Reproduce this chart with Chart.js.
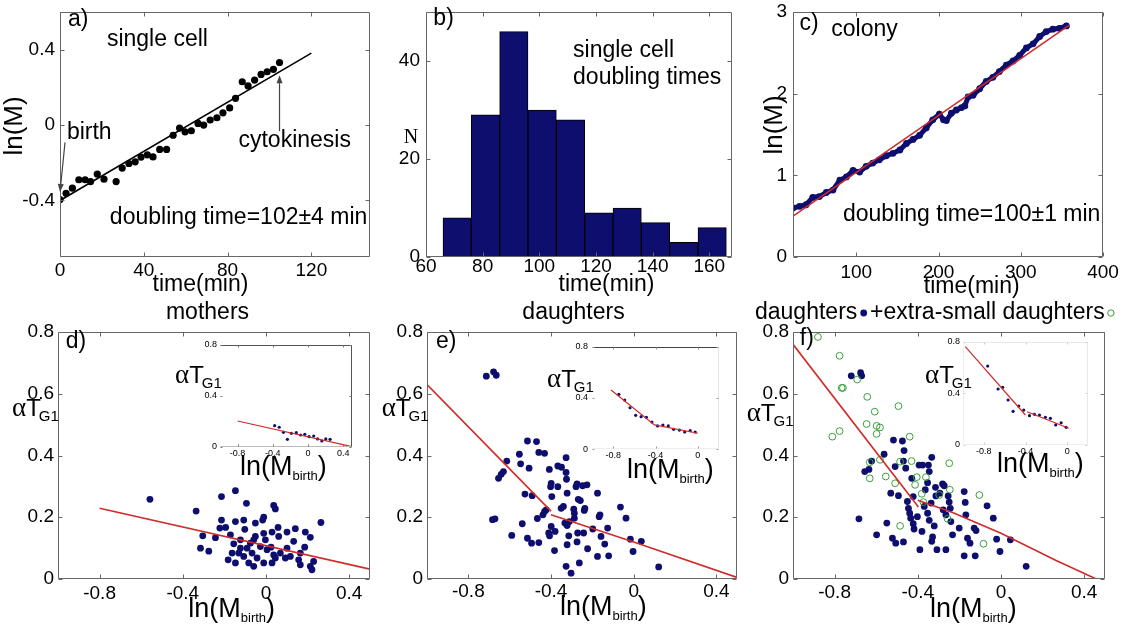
<!DOCTYPE html>
<html>
<head>
<meta charset="utf-8">
<script src="https://cdn.jsdelivr.net/npm/chart.js@4.4.1/dist/chart.umd.min.js"></script>
<style>
  html, body { margin: 0; padding: 0; background: #fff; }
  #fig { position: relative; width: 1124px; height: 632px; overflow: hidden; background: #fff; }
  #fig canvas { position: absolute; }
</style>
</head>
<body>
<div id="fig">
  <canvas id="pa" width="380" height="300" style="left:0px;top:0px"></canvas>
  <canvas id="pb" width="370" height="300" style="left:380px;top:0px"></canvas>
  <canvas id="pc" width="374" height="300" style="left:750px;top:0px"></canvas>
  <canvas id="pd" width="380" height="332" style="left:0px;top:300px"></canvas>
  <canvas id="pe" width="370" height="332" style="left:380px;top:300px"></canvas>
  <canvas id="pf" width="379" height="332" style="left:745px;top:300px"></canvas>
  <canvas id="id" width="200" height="150" style="left:165px;top:335px"></canvas>
  <canvas id="ie" width="190" height="150" style="left:540px;top:337px"></canvas>
  <canvas id="if" width="190" height="150" style="left:915px;top:331px"></canvas>
</div>
<script>
// ---------- a) single cell growth ----------
const cellTime = [0, 2.9, 5.9, 9, 12, 14.6, 17.8, 21, 26.8, 29.7, 32.9, 35.9, 38.7, 41.7, 44.4, 47.6, 50.9, 54, 57.1, 59.7,
                  62.7, 65.9, 68.6, 71.7, 74.9, 77.8, 81, 83.8, 87, 89.8, 92.9, 96, 98.9, 101.9, 104.8];
const cellLnM = [-0.395, -0.362, -0.335, -0.29, -0.29, -0.30, -0.26, -0.287, -0.30, -0.228, -0.204, -0.195, -0.17, -0.158, -0.169, -0.129, -0.129, -0.054, -0.016, -0.036,
                 -0.03, 0.009, 0, 0.027, 0.039, 0.065, 0.091, 0.142, 0.23, 0.208, 0.239, 0.269, 0.283, 0.296, 0.332];
const cellFitTime = [0, 120];
const cellFitLnM = [-0.40, 0.382];
const birthArrow = [[2.4, -0.092], [0, -0.355]];
const cytokinesisArrow = [[104.8, -0.032], [104.8, 0.264]];

// ---------- b) histogram of single-cell doubling times ----------
const binCenters = [71, 81, 91, 101, 111, 121, 131, 141, 151, 161];
const binCounts = [8, 29, 46, 30, 28, 9, 10, 7, 3, 6];

// ---------- c) colony growth ----------
const colonyTime = [23, 31, 39, 47, 55, 63.5, 71.6, 80, 88, 96, 104, 112, 120, 128, 136.5, 144.6, 153, 161, 169, 177,
                    185, 193, 201, 206, 209.5, 215.6, 221.7, 228, 232, 236, 242, 250, 258, 266, 274, 282.5, 290.6, 298.7, 306.8, 315,
                    323, 331, 339, 347, 355.5];
const colonyLnM = [0.60, 0.62, 0.64, 0.73, 0.74, 0.79, 0.82, 0.94, 0.98, 1.06, 1.04, 1.11, 1.15, 1.19, 1.24, 1.27, 1.31, 1.39, 1.44, 1.49,
                   1.58, 1.68, 1.75, 1.68, 1.67, 1.76, 1.80, 1.83, 1.85, 1.96, 1.98, 2.06, 2.15, 2.20, 2.27, 2.35, 2.40, 2.47, 2.56, 2.61,
                   2.70, 2.76, 2.79, 2.80, 2.83];
const colonyFitTime = [23, 359];
const colonyFitLnM = [0.50, 2.84];

// ---------- d) mothers: alpha*T_G1 vs ln(M_birth) ----------
const motherPoints = [[-0.558,0.258],[-0.336,0.220],[-0.304,0.140],[-0.315,0.100],[-0.275,0.090],[-0.214,0.267],[-0.147,0.286],[-0.214,0.191],
  [-0.222,0.165],[-0.194,0.167],[-0.243,0.134],[-0.171,0.143],[-0.182,0.062],[-0.147,0.186],[-0.107,0.191],[-0.102,0.161],[-0.094,0.245],
  [-0.051,0.181],[-0.016,0.191],[-0.011,0.200],[0.037,0.238],[0.045,0.227],[0.029,0.152],[0.058,0.167],[0.101,0.152],[0.141,0.163],
  [0.189,0.152],[0.213,0.135],[0.264,0.183],[0.133,0.122],[0.186,0.103],[0.061,0.138],[-0.003,0.127],[-0.059,0.127],[-0.123,0.127],
  [-0.155,0.114],[-0.163,0.084],[-0.147,0.052],[-0.123,0.100],[-0.091,0.100],[-0.067,0.084],[-0.043,0.068],[-0.083,0.052],[-0.059,0.041],
  [-0.011,0.052],[0.029,0.052],[0.045,0.068],[0.069,0.084],[0.093,0.068],[0.117,0.073],[0.157,0.062],[0.165,0.046],[0.213,0.041],
  [0.221,0.030],[0.229,0.057],[0.037,0.078],[0.005,0.095],[-0.027,0.105],[-0.075,0.116],[-0.051,0.138],[-0.011,0.148],[-0.107,0.073],
  [-0.131,0.084],[0.101,0.100],[0.165,0.084],[0.024,0.103]];
const motherFit = [[-0.8, 0.229], [0.5, 0.032]];
const motherBinned = [[-0.379,0.165],[-0.327,0.153],[-0.279,0.113],[-0.234,0.058],[-0.189,0.105],[-0.133,0.110],[-0.084,0.092],
  [-0.036,0.097],[0.012,0.079],[0.065,0.084],[0.109,0.061],[0.157,0.045],[0.202,0.061],[0.251,0.058]];
const motherBinnedFit = [[-0.8, 0.202], [0.5, 0.0]];

// ---------- e) daughters ----------
const daughterPoints = [[-0.713,0.657],[-0.678,0.671],[-0.665,0.660],[-0.514,0.447],[-0.470,0.445],[-0.553,0.404],[-0.459,0.410],
  [-0.431,0.407],[-0.547,0.373],[-0.506,0.359],[-0.614,0.382],[-0.630,0.348],[-0.654,0.326],[-0.641,0.339],[-0.526,0.275],[-0.491,0.270],
  [-0.683,0.192],[-0.671,0.195],[-0.539,0.179],[-0.590,0.141],[-0.514,0.132],[-0.494,0.116],[-0.459,0.118],[-0.466,0.196],[-0.439,0.208],
  [-0.431,0.219],[-0.423,0.224],[-0.411,0.149],[-0.407,0.140],[-0.399,0.170],[-0.380,0.154],[-0.408,0.355],[-0.367,0.366],[-0.349,0.362],
  [-0.327,0.393],[-0.327,0.345],[-0.325,0.323],[-0.399,0.310],[-0.367,0.299],[-0.402,0.299],[-0.396,0.267],[-0.322,0.278],[-0.351,0.229],
  [-0.340,0.235],[-0.333,0.181],[-0.322,0.173],[-0.311,0.186],[-0.290,0.226],[-0.287,0.213],[-0.287,0.197],[-0.314,0.140],[-0.322,0.111],
  [-0.274,0.120],[-0.271,0.149],[-0.242,0.149],[-0.383,0.092],[-0.327,0.041],[-0.303,0.019],[-0.263,0.052],[-0.223,0.098],[-0.175,0.073],
  [-0.121,0.075],[-0.140,0.113],[-0.158,0.138],[-0.126,0.165],[-0.198,0.162],[-0.167,0.202],[-0.163,0.208],[-0.239,0.222],[-0.236,0.229],
  [-0.268,0.258],[-0.258,0.254],[-0.279,0.299],[-0.274,0.308],[-0.247,0.302],[-0.226,0.305],[-0.175,0.278],[-0.064,0.233],[-0.037,0.197],
  [-0.016,0.129],[-0.003,0.089],[0.037,0.122],[0.121,0.039]];
const daughterFitSmall = [[-1, 0.63], [-0.4, 0.22]];
const daughterFitLarge = [[-0.4, 0.208], [0, 0.12], [0.5, 0.005]];
const daughterBinned = [[-0.746,0.429],[-0.691,0.384],[-0.641,0.324],[-0.587,0.265],[-0.536,0.254],[-0.486,0.249],[-0.434,0.213],
  [-0.381,0.182],[-0.330,0.189],[-0.279,0.182],[-0.229,0.156],[-0.174,0.150],[-0.124,0.135],[-0.072,0.145],[-0.025,0.135]];
const daughterBinnedFit = [[-0.82, 0.462], [-0.41, 0.19], [0, 0.125]];

// ---------- f) daughters plus extra-small daughters ----------
const daughterPointsF = [[-0.720,0.658],[-0.675,0.668],[-0.670,0.658],[-0.683,0.195],[-0.598,0.143],[-0.655,0.348],[-0.635,0.355],
  [-0.622,0.382],[-0.562,0.404],[-0.517,0.450],[-0.474,0.447],[-0.466,0.416],[-0.509,0.364],[-0.469,0.382],[-0.530,0.278],[-0.493,0.270],
  [-0.549,0.181],[-0.522,0.132],[-0.506,0.116],[-0.469,0.120],[-0.450,0.251],[-0.445,0.229],[-0.439,0.213],[-0.434,0.197],[-0.422,0.267],
  [-0.429,0.326],[-0.402,0.202],[-0.422,0.179],[-0.418,0.162],[-0.390,0.095],[-0.380,0.154],[-0.369,0.235],[-0.353,0.213],[-0.394,0.369],
  [-0.377,0.369],[-0.349,0.369],[-0.345,0.348],[-0.333,0.394],[-0.353,0.312],[-0.364,0.289],[-0.336,0.246],[-0.315,0.297],[-0.313,0.269],
  [-0.281,0.308],[-0.273,0.302],[-0.294,0.278],[-0.345,0.190],[-0.321,0.172],[-0.329,0.136],[-0.333,0.122],[-0.308,0.095],[-0.278,0.224],
  [-0.265,0.208],[-0.241,0.186],[-0.233,0.143],[-0.265,0.095],[-0.249,0.249],[-0.254,0.269],[-0.201,0.165],[-0.177,0.283],[-0.172,0.248],
  [-0.169,0.208],[-0.177,0.075],[-0.124,0.075],[-0.161,0.132],[-0.149,0.116],[-0.129,0.165],[-0.120,0.157],[-0.067,0.237],[-0.037,0.197],
  [-0.021,0.129],[-0.005,0.089],[0.045,0.127],[0.121,0.041],[-0.244,0.229],[-0.458,0.359]];
const extraSmallPoints = [[-0.880,0.784],[-0.776,0.723],[-0.766,0.619],[-0.760,0.619],[-0.691,0.646],[-0.643,0.590],[-0.607,0.542],
  [-0.493,0.560],[-0.646,0.502],[-0.598,0.496],[-0.582,0.491],[-0.598,0.470],[-0.776,0.479],[-0.811,0.461],[-0.439,0.461],[-0.631,0.378],
  [-0.582,0.386],[-0.631,0.326],[-0.554,0.332],[-0.509,0.310],[-0.485,0.380],[-0.430,0.382],[-0.249,0.375],[-0.413,0.305],[-0.405,0.330],
  [-0.381,0.276],[-0.361,0.330],[-0.297,0.272],[-0.246,0.289],[-0.104,0.272],[-0.373,0.249],[-0.257,0.195],[-0.485,0.172],[-0.084,0.114]];
const allFitSmall = [[-1, 0.76], [-0.397, 0.233]];
const allFitLarge = [[-0.4, 0.255], [-0.233, 0.215], [0, 0.148], [0.265, 0.06], [0.458, 0.0]];
const allBinned = [[-0.763,0.610],[-0.663,0.433],[-0.619,0.446],[-0.567,0.348],[-0.519,0.260],[-0.465,0.301],[-0.417,0.270],
  [-0.362,0.227],[-0.314,0.237],[-0.266,0.232],[-0.209,0.214],[-0.161,0.206],[-0.110,0.155],[-0.058,0.172],[-0.010,0.137]];
const allBinnedFitSmall = [[-0.978, 0.76], [-0.401, 0.232]];
const allBinnedFitLarge = [[-0.385, 0.257], [0.016, 0.129]];

// ---------- tick values ----------
const ticksA = { x: [0, 40, 80, 120], y: [-0.4, 0, 0.4] };
const ticksB = { x: [60, 80, 100, 120, 140, 160], y: [0, 20, 40] };
const ticksC = { x: [100, 200, 300, 400], y: [0, 1, 2, 3] };
const ticksMain = { x: [-0.8, -0.4, 0, 0.4], y: [0, 0.2, 0.4, 0.6, 0.8] };
const ticksInsetD = { x: [-0.8, -0.4, 0, 0.4], y: [0, 0.4, 0.8] };
const ticksInsetEF = { x: [-0.8, -0.4, 0], y: [0, 0.4, 0.8] };

// ---------- styling ----------
const SANS = '"Liberation Sans", Arial, Helvetica, sans-serif';
const SERIF = '"Liberation Serif", "Times New Roman", serif';
const NAVY = '#0e0e6e';
const RED = '#d02a2a';
const GREEN = '#3a9e3a';
const FRAME = '#666';

const pts = (xs, ys) => xs.map((x, i) => ({ x, y: ys[i] }));
const pairs = arr => arr.map(([x, y]) => ({ x, y }));
const fmt = v => String(+Number(v).toFixed(2));

function dots(data, color, r, order) {
  return { data, showLine: false, pointRadius: r, pointBackgroundColor: color, pointBorderColor: color,
           pointBorderWidth: 0, borderWidth: 0, order };
}
function rings(data, color, r, order) {
  return { data, showLine: false, pointRadius: r, pointBackgroundColor: 'rgba(0,0,0,0)', pointBorderColor: color,
           pointBorderWidth: 1, order };
}
function line(data, color, w, order) {
  return { data, showLine: true, borderColor: color, borderWidth: w, pointRadius: 0, fill: false, tension: 0, order };
}

function axis(min, max, values, size, pad, fontSize) {
  return {
    type: 'linear', min, max, offset: false,
    grid: { display: false, drawTicks: false }, border: { display: false },
    afterBuildTicks: s => { s.ticks = values.map(v => ({ value: v })); },
    afterFit: s => {
      if (s.isHorizontal()) s.height = size; else s.width = size;
      s.paddingLeft = s.paddingRight = s.paddingTop = s.paddingBottom = 0;
    },
    ticks: { font: { family: SANS, size: fontSize }, color: '#000', padding: pad, autoSkip: false, maxRotation: 0,
             minRotation: 0, callback: v => fmt(v) }
  };
}

// box and inward tick marks on all four sides
const framePlugin = {
  id: 'frame',
  afterDatasetsDraw(chart, args, o) {
    const { ctx, chartArea: a, scales } = chart;
    const L = Math.round(a.left) + 0.5, R = Math.round(a.right) - 0.5;
    const T = Math.round(a.top) + 0.5, B = Math.round(a.bottom) - 0.5;
    const c = o.sides || {};
    ctx.save();
    ctx.lineWidth = 1;
    const seg = (col, x1, y1, x2, y2) => {
      if (!col) return;
      ctx.strokeStyle = col; ctx.beginPath(); ctx.moveTo(x1, y1); ctx.lineTo(x2, y2); ctx.stroke();
    };
    seg(c.top, L, T, R, T); seg(c.bottom, L, B, R, B); seg(c.left, L, T, L, B); seg(c.right, R, T, R, B);
    const tl = o.tickLen || 0;
    ctx.strokeStyle = o.tickColor || FRAME;
    scales.x.ticks.forEach(t => {
      const p = Math.round(scales.x.getPixelForValue(t.value)) + 0.5;
      ctx.beginPath(); ctx.moveTo(p, B); ctx.lineTo(p, B - tl); ctx.moveTo(p, T); ctx.lineTo(p, T + tl); ctx.stroke();
    });
    scales.y.ticks.forEach(t => {
      const p = Math.round(scales.y.getPixelForValue(t.value)) + 0.5;
      ctx.beginPath(); ctx.moveTo(L, p); ctx.lineTo(L + tl, p); ctx.moveTo(R, p); ctx.lineTo(R - tl, p); ctx.stroke();
    });
    ctx.restore();
  }
};

// arrows given in data units
const arrowPlugin = {
  id: 'arrows',
  afterDatasetsDraw(chart, args, o) {
    const { ctx, scales } = chart;
    (o.list || []).forEach(([from, to]) => {
      const x1 = scales.x.getPixelForValue(from[0]), y1 = scales.y.getPixelForValue(from[1]);
      const x2 = scales.x.getPixelForValue(to[0]), y2 = scales.y.getPixelForValue(to[1]);
      const ang = Math.atan2(y2 - y1, x2 - x1), hl = 8, hw = 3;
      ctx.save();
      ctx.strokeStyle = '#444'; ctx.fillStyle = '#444'; ctx.lineWidth = 1.2;
      ctx.beginPath(); ctx.moveTo(x1, y1); ctx.lineTo(x2 - Math.cos(ang) * hl * 0.6, y2 - Math.sin(ang) * hl * 0.6); ctx.stroke();
      ctx.translate(x2, y2); ctx.rotate(ang);
      ctx.beginPath(); ctx.moveTo(0, 0); ctx.lineTo(-hl, hw); ctx.lineTo(-hl, -hw); ctx.closePath(); ctx.fill();
      ctx.restore();
    });
  }
};

// text with sub-scripts, symbols and markers
function drawRich(ctx, parts, x, y, align, rot) {
  ctx.save();
  ctx.translate(x, y);
  if (rot) ctx.rotate(rot);
  ctx.textBaseline = 'middle';
  const widths = parts.map(p => {
    if (p.dot) return p.dot.r * 2 + p.dot.gap * 2;
    ctx.font = `${p.size}px ${p.fam || SANS}`;
    return ctx.measureText(p.t).width + (p.dx || 0);
  });
  let cx = align === 'center' ? -widths.reduce((s, w) => s + w, 0) / 2 : 0;
  parts.forEach((p, i) => {
    if (p.dot) {
      ctx.beginPath();
      ctx.arc(cx + p.dot.gap + p.dot.r, p.dy || 0, p.dot.r, 0, Math.PI * 2);
      if (p.dot.fill) { ctx.fillStyle = p.dot.fill; ctx.fill(); }
      if (p.dot.stroke) { ctx.strokeStyle = p.dot.stroke; ctx.lineWidth = 1; ctx.stroke(); }
    } else {
      ctx.font = `${p.size}px ${p.fam || SANS}`;
      ctx.fillStyle = '#000';
      ctx.fillText(p.t, cx + (p.dx || 0), p.dy || 0);
    }
    cx += widths[i];
  });
  ctx.restore();
}

const notesPlugin = {
  id: 'notes',
  afterDraw(chart, args, o) {
    const ox = chart.canvas.offsetLeft, oy = chart.canvas.offsetTop;
    (o.items || []).forEach(it => {
      let x, y;
      if (it.at === 'data') { x = chart.scales.x.getPixelForValue(it.x); y = chart.scales.y.getPixelForValue(it.y); }
      else { x = it.x - ox; y = it.y - oy; }
      drawRich(chart.ctx, it.parts, x, y, it.align || 'left', it.rot || 0);
    });
  }
};
Chart.register(framePlugin, arrowPlugin, notesPlugin);

const TXT = 23, TICK = 19;
const plain = (t, size = TXT, fam = SANS) => [{ t, size, fam }];
const lnMbirth = (size = 27) => [{ t: 'ln(M', size }, { t: 'birth', size: 13, dy: 8 }, { t: ')', size }];
const alphaT = () => [{ t: 'α', size: 27, fam: SERIF }, { t: 'T', size: 24 }, { t: 'G1', size: 15, dy: 8, dx: -2 }];

function baseOptions(pad, xAxis, yAxis, frame, items, arrows) {
  return {
    responsive: false, maintainAspectRatio: false, animation: false, devicePixelRatio: 1, events: [],
    layout: { padding: pad },
    plugins: { legend: { display: false }, tooltip: { enabled: false }, title: { display: false },
               frame, notes: { items }, arrows: { list: arrows || [] } },
    scales: { x: xAxis, y: yAxis }
  };
}
const mainFrame = { sides: { top: FRAME, bottom: FRAME, left: FRAME, right: FRAME }, tickLen: 4, tickColor: FRAME };

// a) single cell
new Chart(document.getElementById('pa'), {
  type: 'scatter',
  data: { datasets: [
    line(pts(cellFitTime, cellFitLnM), '#000', 1.6, 0),
    dots(pts(cellTime, cellLnM), '#000', 3.6, 1)
  ] },
  options: baseOptions({ left: 0, top: 12, right: 10, bottom: 0 },
    axis(0, 148, ticksA.x, 43, 2, TICK), axis(-0.7, 0.6, ticksA.y, 60, 5, TICK), mainFrame, [
      { at: 'data', x: 3.8, y: 0.56, parts: plain('a)') },
      { at: 'data', x: 22.4, y: 0.452, parts: plain('single cell') },
      { at: 'data', x: 3.3, y: -0.038, parts: plain('birth') },
      { at: 'data', x: 85.2, y: -0.084, parts: plain('cytokinesis') },
      { at: 'data', x: 23.8, y: -0.49, parts: plain('doubling time=102±4 min') },
      { at: 'page', x: 200.5, y: 285, align: 'center', parts: plain('time(min)') },
      { at: 'page', x: 15, y: 126, align: 'center', rot: -Math.PI / 2, parts: plain('ln(M)', 26) }
    ], [birthArrow, cytokinesisArrow])
});

// b) histogram
new Chart(document.getElementById('pb'), {
  type: 'bar',
  data: { datasets: [{ data: pts(binCenters, binCounts), backgroundColor: NAVY, borderColor: '#000', borderWidth: 1,
                       borderSkipped: false, barPercentage: 1, categoryPercentage: 1 }] },
  options: baseOptions({ left: 0, top: 12, right: 18, bottom: 0 },
    axis(60, 168, ticksB.x, 43, -2, TICK), axis(0, 50, ticksB.y, 46, 6, TICK), mainFrame, [
      { at: 'data', x: 62.6, y: 48.7, parts: plain('b)') },
      { at: 'data', x: 111.9, y: 42.2, parts: plain('single cell') },
      { at: 'data', x: 111.9, y: 36.7, parts: plain('doubling times') },
      { at: 'page', x: 606.5, y: 285, align: 'center', parts: plain('time(min)') },
      { at: 'page', x: 411, y: 138, align: 'center', parts: plain('N', 20, SERIF) }
    ])
});

// c) colony
new Chart(document.getElementById('pc'), {
  type: 'scatter',
  data: { datasets: [
    line(pts(colonyFitTime, colonyFitLnM), RED, 1.6, 0),
    Object.assign(dots(pts(colonyTime, colonyLnM), NAVY, 3.4, 1), { showLine: true, borderColor: NAVY, borderWidth: 5 })
  ] },
  options: baseOptions({ left: 0, top: 12, right: 21, bottom: 0 },
    axis(23, 400, ticksC.x, 43, 4, TICK), axis(0, 3, ticksC.y, 43, 6, TICK), mainFrame, [
      { at: 'data', x: 31, y: 2.86, parts: plain('c)') },
      { at: 'data', x: 69.6, y: 2.78, parts: plain('colony') },
      { at: 'data', x: 83.7, y: 0.514, parts: plain('doubling time=100±1 min') },
      { at: 'page', x: 971.7, y: 287, align: 'center', parts: plain('time(min)') },
      { at: 'page', x: 775, y: 125, align: 'center', rot: -Math.PI / 2, parts: plain('ln(M)', 26) }
    ])
});

// d) mothers
new Chart(document.getElementById('pd'), {
  type: 'scatter',
  data: { datasets: [
    line(pairs(motherFit), RED, 1.6, 0),
    dots(pairs(motherPoints), NAVY, 3.4, 1)
  ] },
  options: baseOptions({ left: 0, top: 32, right: 10, bottom: 0 },
    axis(-1, 0.5, ticksMain.x, 53, 3, TICK), axis(0, 0.8, ticksMain.y, 58, 4, TICK), mainFrame, [
      { at: 'data', x: -0.963, y: 0.768, parts: plain('d)') },
      { at: 'page', x: 207.5, y: 313, align: 'center', parts: plain('mothers') },
      { at: 'page', x: 231.7, y: 610, align: 'center', parts: lnMbirth() },
      { at: 'page', x: 12, y: 409, parts: alphaT() }
    ])
});

// e) daughters
new Chart(document.getElementById('pe'), {
  type: 'scatter',
  data: { datasets: [
    line(pairs(daughterFitSmall), RED, 1.6, 0),
    line(pairs(daughterFitLarge), RED, 1.6, 0),
    dots(pairs(daughterPoints), NAVY, 3.4, 1)
  ] },
  options: baseOptions({ left: 0, top: 32, right: 13, bottom: 0 },
    axis(-1, 0.5, ticksMain.x, 53, 1, TICK), axis(0, 0.8, ticksMain.y, 47, 4, TICK), mainFrame, [
      { at: 'data', x: -0.957, y: 0.768, parts: plain('e)') },
      { at: 'page', x: 573.5, y: 313, align: 'center', parts: plain('daughters') },
      { at: 'page', x: 603.3, y: 608, align: 'center', parts: lnMbirth() },
      { at: 'page', x: 381.7, y: 409, parts: alphaT() }
    ])
});

// f) daughters together with extra-small daughters
new Chart(document.getElementById('pf'), {
  type: 'scatter',
  data: { datasets: [
    line(pairs(allFitSmall), RED, 1.6, 0),
    line(pairs(allFitLarge), RED, 1.6, 0),
    rings(pairs(extraSmallPoints), GREEN, 3.4, 1),
    dots(pairs(daughterPointsF), NAVY, 3.4, 2)
  ] },
  options: baseOptions({ left: 0, top: 32, right: 19, bottom: 0 },
    axis(-1, 0.5, ticksMain.x, 53, 2, TICK), axis(0, 0.8, ticksMain.y, 48, 4, TICK), mainFrame, [
      { at: 'data', x: -0.967, y: 0.779, parts: plain('f)') },
      { at: 'page', x: 755, y: 313, parts: [
          { t: 'daughters', size: TXT }, { dot: { r: 3.4, gap: 3, fill: NAVY } },
          { t: '+extra-small daughters', size: TXT }, { dot: { r: 3.2, gap: 3, stroke: GREEN } } ] },
      { at: 'page', x: 973.3, y: 610, align: 'center', parts: lnMbirth() },
      { at: 'page', x: 746.7, y: 414, parts: alphaT() }
    ])
});

// insets: binned averages
const INS = 9;
new Chart(document.getElementById('id'), {
  type: 'scatter',
  data: { datasets: [ line(pairs(motherBinnedFit), RED, 1.2, 0), dots(pairs(motherBinned), NAVY, 1.6, 1) ] },
  options: baseOptions({ left: 0, top: 10, right: 13, bottom: 0 },
    axis(-1, 0.5, ticksInsetD.x, 38.3, 1, INS), axis(0, 0.8, ticksInsetD.y, 55, 3, INS),
    { sides: { top: '#555', right: '#555', bottom: '#bbb' }, tickLen: 2, tickColor: '#777' }, [
      { at: 'page', x: 175, y: 376, parts: alphaT() },
      { at: 'page', x: 240, y: 468, parts: lnMbirth() }
    ])
});
new Chart(document.getElementById('ie'), {
  type: 'scatter',
  data: { datasets: [ line(pairs(daughterBinnedFit), RED, 1.2, 0), dots(pairs(daughterBinned), NAVY, 1.6, 1) ] },
  options: baseOptions({ left: 0, top: 9.7, right: 11, bottom: 0 },
    axis(-1, 0.2, ticksInsetEF.x, 37.7, 1, INS), axis(0, 0.8, ticksInsetEF.y, 52, 4, INS),
    { sides: { top: '#444', right: '#e4e4e4', bottom: '#eee' }, tickLen: 2, tickColor: '#999' }, [
      { at: 'page', x: 547, y: 380, parts: alphaT() },
      { at: 'page', x: 627, y: 471, parts: lnMbirth() }
    ])
});
new Chart(document.getElementById('if'), {
  type: 'scatter',
  data: { datasets: [ line(pairs(allBinnedFitSmall), RED, 1.2, 0), line(pairs(allBinnedFitLarge), RED, 1.2, 0),
                      dots(pairs(allBinned), NAVY, 1.6, 1) ] },
  options: baseOptions({ left: 0, top: 10.5, right: 17, bottom: 0 },
    axis(-1, 0.2, ticksInsetEF.x, 36, 1, INS), axis(0, 0.8, ticksInsetEF.y, 48, 3, INS),
    { sides: { top: '#e8e8e8', right: '#e8e8e8', bottom: '#eee', left: '#eee' }, tickLen: 2, tickColor: '#ccc' }, [
      { at: 'page', x: 925, y: 376, parts: alphaT() },
      { at: 'page', x: 997, y: 465, parts: lnMbirth() }
    ])
});
</script>
</body>
</html>
